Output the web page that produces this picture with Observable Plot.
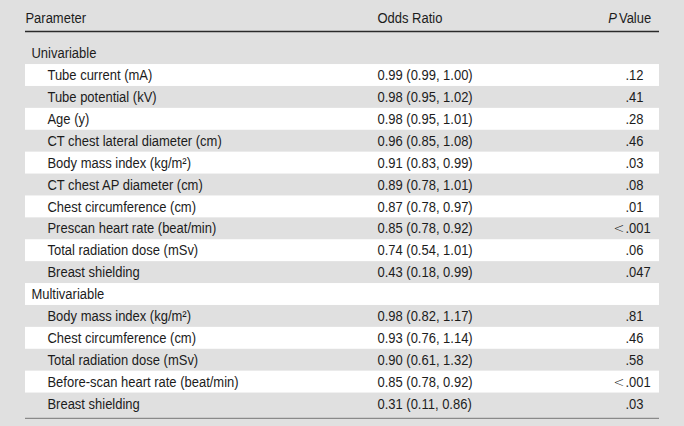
<!DOCTYPE html>
<html>
<head>
<meta charset="utf-8">
<script src="https://cdn.jsdelivr.net/npm/d3@7"></script>
<script src="https://cdn.jsdelivr.net/npm/@observablehq/plot@0.6"></script>
<style>
html, body { margin: 0; padding: 0; background: #e0e0e0; }
#chart { width: 684px; height: 426px; overflow: hidden; }
#chart svg { display: block; transform-origin: 0 0; max-width: none !important; }
</style>
</head>
<body>
<div id="chart"></div>
<script>
// ---- data ----
const headers = ["Parameter", "Odds Ratio", "P", "Value"];
const sections = ["Univariable", "Multivariable"];
const uniParams = [
  "Tube current (mA)",
  "Tube potential (kV)",
  "Age (y)",
  "CT chest lateral diameter (cm)",
  "Body mass index (kg/m²)",
  "CT chest AP diameter (cm)",
  "Chest circumference (cm)",
  "Prescan heart rate (beat/min)",
  "Total radiation dose (mSv)",
  "Breast shielding"
];
const uniOdds = [
  "0.99 (0.99, 1.00)",
  "0.98 (0.95, 1.02)",
  "0.98 (0.95, 1.01)",
  "0.96 (0.85, 1.08)",
  "0.91 (0.83, 0.99)",
  "0.89 (0.78, 1.01)",
  "0.87 (0.78, 0.97)",
  "0.85 (0.78, 0.92)",
  "0.74 (0.54, 1.01)",
  "0.43 (0.18, 0.99)"
];
const uniP = [".12", ".41", ".28", ".46", ".03", ".08", ".01", "<.001", ".06", ".047"];
const multiParams = [
  "Body mass index (kg/m²)",
  "Chest circumference (cm)",
  "Total radiation dose (mSv)",
  "Before-scan heart rate (beat/min)",
  "Breast shielding"
];
const multiOdds = [
  "0.98 (0.82, 1.17)",
  "0.93 (0.76, 1.14)",
  "0.90 (0.61, 1.32)",
  "0.85 (0.78, 0.92)",
  "0.31 (0.11, 0.86)"
];
const multiP = [".81", ".46", ".58", "<.001", ".03"];

// ---- table rows built from the arrays ----
const rows = [];
rows.push({label: sections[0], section: true});
uniParams.forEach((p, k) => rows.push({label: p, odds: uniOdds[k], p: uniP[k]}));
rows.push({label: sections[1], section: true});
multiParams.forEach((p, k) => rows.push({label: p, odds: multiOdds[k], p: multiP[k]}));
rows.forEach((r, i) => {
  r.i = i;
  if (r.p) {
    const dot = r.p.indexOf(".");
    r.pre = r.p.slice(0, dot);
    r.post = r.p.slice(dot);
  }
});
const items = rows.filter(r => !r.section);

// ---- layout ----
const W = 684, H = 426;
const ROW = 21.9, Y0 = 53.1;
const LEFT = 25, RIGHT = 659;
const X_SECTION = 31, X_ITEM = 47, X_ODDS = 377, X_DEC = 625, X_P_END = 616.5, X_VALUE = 618.5;
const Y_HEADER = -1.6, Y_HEADLINE = -1.01, Y_BOTTOM = 16.66;
const FONT = "'Liberation Sans', Arial, sans-serif";
const FSIZE = 14.5;
const INK = "#1c1c1c";

// horizontal condensing factor so the sans font matches the condensed face of the reference
const ctx = document.createElement("canvas").getContext("2d");
ctx.font = `${FSIZE}px ${FONT}`;
let S = 169 / ctx.measureText("Prescan heart rate (beat/min)").width;
if (!(S > 0.6 && S < 1.1)) S = 0.87;
const WS = W / S;

const chart = Plot.plot({
  width: WS,
  height: H,
  margin: 0,
  x: {domain: [0, W], range: [0, WS], axis: null},
  y: {domain: [0, rows.length - 1], range: [Y0, Y0 + (rows.length - 1) * ROW], axis: null},
  style: {background: "#e0e0e0", fontFamily: FONT, fontSize: FSIZE + "px", color: INK},
  marks: [
    // zebra stripes
    Plot.rect(rows.filter(r => r.i % 2 === 1), {
      x1: () => LEFT, x2: () => RIGHT,
      y1: d => d.i - 0.5, y2: d => d.i + 0.5,
      fill: "#ffffff"
    }),
    // header
    Plot.text([headers[0]], {x: () => LEFT, y: () => Y_HEADER, text: d => d, textAnchor: "start", fill: INK}),
    Plot.text([headers[1]], {x: () => X_ODDS, y: () => Y_HEADER, text: d => d, textAnchor: "start", fill: INK}),
    Plot.text([headers[2]], {x: () => X_P_END, y: () => Y_HEADER, text: d => d, textAnchor: "end", fill: INK, fontStyle: "italic"}),
    Plot.text([headers[3]], {x: () => X_VALUE, y: () => Y_HEADER, text: d => d, textAnchor: "start", fill: INK}),
    // rules
    Plot.ruleY([Y_HEADLINE], {x1: LEFT, x2: RIGHT, stroke: "#2a2a2a", strokeWidth: 1.4}),
    Plot.ruleY([Y_BOTTOM], {x1: LEFT, x2: RIGHT, stroke: "#8a8a8a", strokeWidth: 1.2}),
    // section labels
    Plot.text(rows.filter(r => r.section), {x: () => X_SECTION, y: "i", text: "label", textAnchor: "start", fill: INK}),
    // parameter labels
    Plot.text(items, {x: () => X_ITEM, y: "i", text: "label", textAnchor: "start", fill: INK}),
    // odds ratios
    Plot.text(items, {x: () => X_ODDS, y: "i", text: "odds", textAnchor: "start", fill: INK}),
    // P values (decimal aligned)
    Plot.text(items, {x: () => X_DEC, y: "i", text: "post", textAnchor: "start", fill: INK}),
    Plot.text(items.filter(r => r.pre), {x: () => X_DEC - 1, y: "i", text: "pre", textAnchor: "end", fill: INK, fontFamily: "'DejaVu Sans', sans-serif", fontWeight: 200})
  ]
});
chart.style.maxWidth = "none";
chart.style.width = WS + "px";
chart.style.height = H + "px";
chart.style.transform = `scaleX(${S})`;
document.getElementById("chart").appendChild(chart);
</script>
</body>
</html>
